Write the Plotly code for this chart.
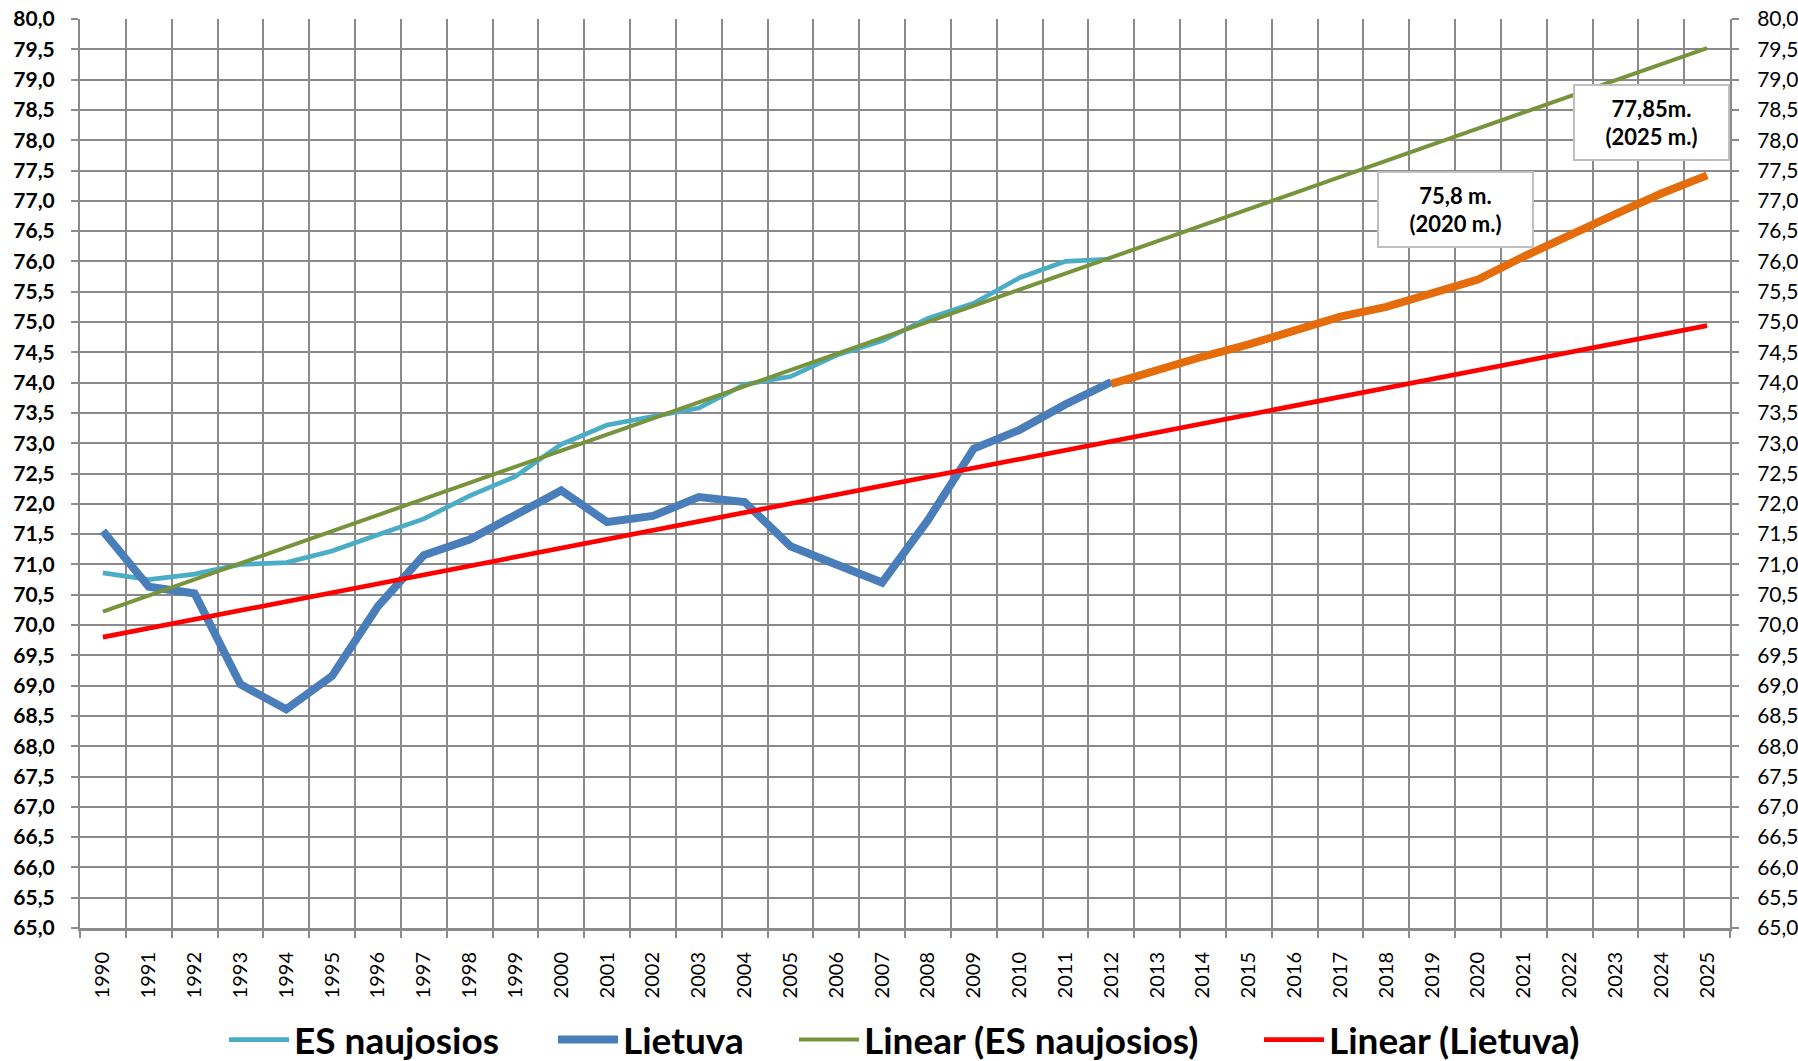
import plotly.graph_objects as go

# ---- data ----
years_hist = list(range(1990, 2013))
es_naujosios = [70.86, 70.75, 70.84, 71.00, 71.03, 71.22, 71.49, 71.75, 72.13, 72.45,
                72.98, 73.30, 73.44, 73.58, 73.97, 74.10, 74.45, 74.69, 75.06, 75.31,
                75.73, 76.00, 76.04]
lietuva = [71.55, 70.63, 70.52, 69.02, 68.61, 69.16, 70.31, 71.15, 71.41, 71.83,
           72.22, 71.70, 71.80, 72.11, 72.03, 71.30, 71.01, 70.70, 71.73, 72.91,
           73.22, 73.64, 74.01]
years_proj = list(range(2012, 2026))
lietuva_proj = [73.98, 74.21, 74.43, 74.63, 74.85, 75.09, 75.25, 75.47, 75.70, 76.08,
                76.44, 76.78, 77.12, 77.42]
trend_years = [1990, 2025]
trend_es = [70.22, 79.52]
trend_lt = [69.80, 74.94]
all_years = list(range(1990, 2026))
names = ["ES naujosios", "Lietuva", "Linear (ES naujosios)", "Linear (Lietuva)"]
notes = [("75,8 m.", "(2020 m.)", 2019.5, 76.85), ("77,85m.", "(2025 m.)", 2023.78, 78.29)]

FONT = "Lato, 'Open Sans', sans-serif"
GRID = "#8a8a8a"
W, H = 1798, 1061
legend_left = [224, 553, 794, 1259]  # left edge of each legend entry (px)

fig = go.Figure()
fig.add_trace(go.Scatter(x=years_hist, y=es_naujosios, mode="lines", name=names[0],
                         legend="legend", line=dict(color="#4BACC6", width=4.7)))
fig.add_trace(go.Scatter(x=years_hist, y=lietuva, mode="lines", name=names[1],
                         legend="legend2", line=dict(color="#4A7EBB", width=8)))
fig.add_trace(go.Scatter(x=years_proj, y=lietuva_proj, mode="lines", showlegend=False,
                         line=dict(color="#E46C0A", width=8)))
fig.add_trace(go.Scatter(x=trend_years, y=trend_es, mode="lines", name=names[2],
                         legend="legend3", line=dict(color="#77933C", width=4)))
fig.add_trace(go.Scatter(x=trend_years, y=trend_lt, mode="lines", name=names[3],
                         legend="legend4", line=dict(color="#FF0000", width=4.7), yaxis="y2"))

for l1, l2, nx, ny in notes:
    fig.add_annotation(x=nx, y=ny, xref="x", yref="y", text=f"<b>{l1}</b><br><b>{l2}</b>",
                       showarrow=False, xanchor="center", yanchor="middle",
                       width=153, height=73, bgcolor="white", bordercolor="#BFBFBF",
                       borderwidth=2, borderpad=0,
                       font=dict(family=FONT, size=22, color="black"))

def legend_at(px):
    return dict(orientation="h", xref="container", x=px / W, xanchor="left",
                yref="container", y=1 - 1040 / H, yanchor="middle",
                font=dict(family=FONT, size=37, color="black", weight="bold"),
                itemwidth=60, bgcolor="rgba(0,0,0,0)")

fig.update_layout(
    width=W, height=H,
    margin=dict(l=80, r=68, t=19, b=133, autoexpand=False),
    paper_bgcolor="white", plot_bgcolor="white",
    separators=", ",
    font=dict(family=FONT, color="black"),
    showlegend=True,
    legend=legend_at(legend_left[0]),
    legend2=legend_at(legend_left[1]),
    legend3=legend_at(legend_left[2]),
    legend4=legend_at(legend_left[3]),
    xaxis=dict(range=[1989.5, 2025.5], tickmode="array", tickvals=all_years,
               ticktext=[str(y) for y in all_years], tickangle=-90,
               tickfont=dict(family=FONT, size=20, color="black"),
               showgrid=False, ticks="", zeroline=False, automargin=False,
               showline=True, linecolor=GRID, linewidth=3,
               ticklabelstandoff=13,
               minor=dict(tickmode="linear", tick0=1989.5, dtick=1, showgrid=True,
                          gridcolor=GRID, gridwidth=2, ticks="outside", ticklen=7,
                          tickcolor=GRID, tickwidth=2)),
    yaxis=dict(range=[65, 80], tickmode="linear", tick0=65, dtick=0.5, tickformat=".1f",
               tickfont=dict(family=FONT, size=21, color="black", weight="bold"),
               showgrid=True, gridcolor=GRID, gridwidth=2, zeroline=False, automargin=False,
               ticks="outside", ticklen=7, tickcolor=GRID, tickwidth=2,
               showline=True, linecolor=GRID, linewidth=2, ticklabelstandoff=12),
    yaxis2=dict(range=[65, 80], overlaying="y", side="right", tickmode="linear", tick0=65,
                dtick=0.5, tickformat=".1f", automargin=False,
                tickfont=dict(family=FONT, size=21, color="black"),
                showgrid=False, zeroline=False, ticks="outside", ticklen=7,
                tickcolor=GRID, tickwidth=2, showline=True, linecolor=GRID, linewidth=2,
                ticklabelstandoff=14),
)

fig.write_html("out.html", config={"displayModeBar": False},
               post_script="document.body.style.margin='0';")
